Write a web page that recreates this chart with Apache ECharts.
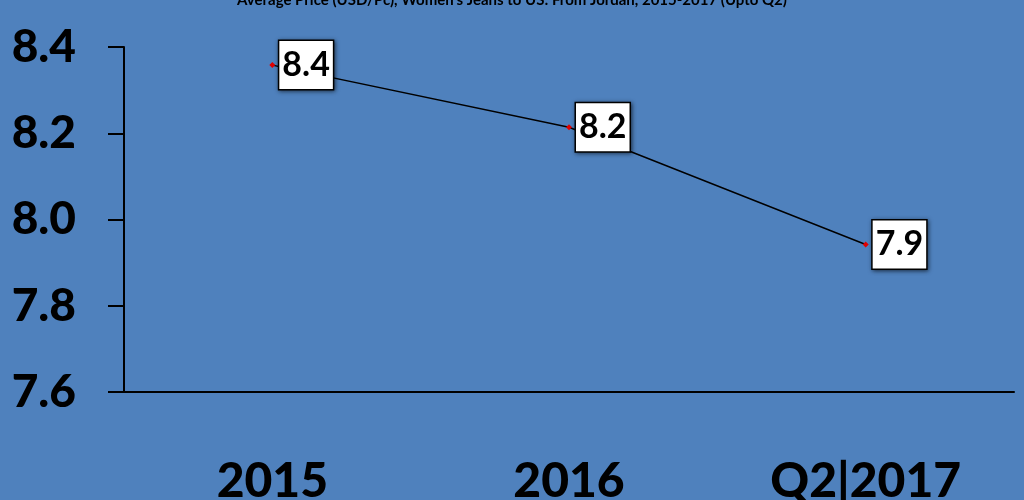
<!DOCTYPE html>
<html><head><meta charset="utf-8">
<script src="https://cdn.jsdelivr.net/npm/echarts@6/dist/echarts.min.js"></script>
<style>html,body{margin:0;padding:0;background:#4F81BD;}#c{width:1024px;height:500px;}</style>
</head><body><div id="c"></div>
<script>
const titleText = "Average Price (USD/Pc), Women's Jeans to US: From Jordan, 2015-2017 (Upto Q2)";
const categories = ["2015", "2016", "Q2|2017"];
const values = [8.358, 8.214, 7.942];
const valueLabels = ["8.4", "8.2", "7.9"];
const yMin = 7.6, yMax = 8.4, yStep = 0.2;

const chart = echarts.init(document.getElementById('c'));
chart.setOption({
  backgroundColor: '#4F81BD',
  animation: false,
  title: {
    text: titleText, left: 'center', top: -12,
    textStyle: {fontFamily: 'Lato', fontWeight: 'bold', fontSize: 15, color: '#000'}
  },
  grid: {left: 124, right: 10, top: 47, bottom: 108, containLabel: false, outerBoundsMode: 'none'},
  xAxis: {
    type: 'category', data: categories, boundaryGap: true,
    axisLine: {lineStyle: {color: '#000', width: 2}},
    axisTick: {show: false},
    axisLabel: {color: '#000', fontFamily: 'Lato', fontWeight: 900, fontSize: 48, margin: 66}
  },
  yAxis: {
    type: 'value', min: yMin, max: yMax, interval: yStep,
    splitLine: {show: false},
    axisLine: {show: true, lineStyle: {color: '#000', width: 2}},
    axisTick: {show: true, length: 16, lineStyle: {color: '#000', width: 2}},
    axisLabel: {color: '#000', fontFamily: 'Lato', fontWeight: 900, fontSize: 46, margin: 48,
      formatter: v => v.toFixed(1)}
  },
  series: [{
    type: 'line', data: values,
    symbol: 'diamond', symbolSize: 6,
    itemStyle: {color: '#E00000'},
    lineStyle: {color: '#000', width: 1.5},
    label: {
      show: true, position: 'right', distance: 4,
      formatter: p => valueLabels[p.dataIndex],
      color: '#000', fontFamily: 'Lato', fontWeight: 'bold', fontSize: 34,
      backgroundColor: '#fff', borderColor: '#000', borderWidth: 1.5,
      padding: [8, 3, 6, 3],
      shadowColor: 'rgba(0,0,0,0.5)', shadowBlur: 4, shadowOffsetX: 1, shadowOffsetY: 1
    }
  }]
});
</script></body></html>
